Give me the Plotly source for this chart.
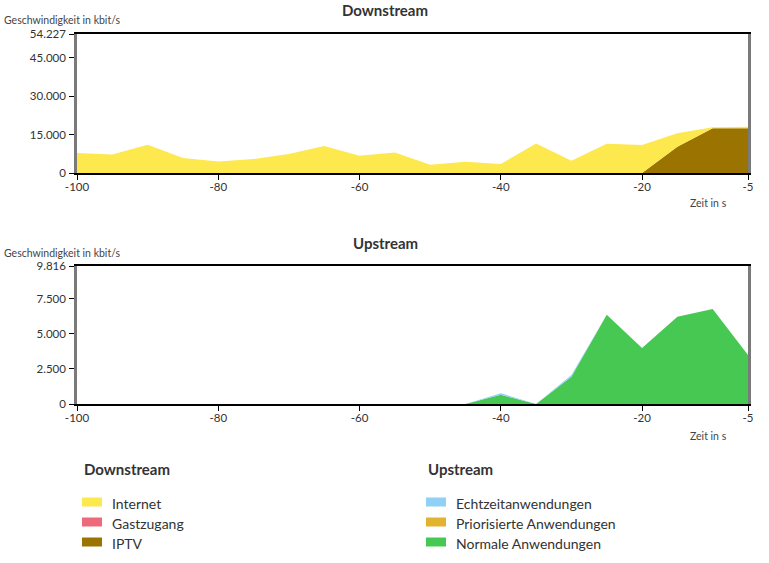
import plotly.graph_objects as go

W, H = 769, 563

# ---------------- data ----------------
time_s = [-100, -95, -90, -85, -80, -75, -70, -65, -60, -55,
          -50, -45, -40, -35, -30, -25, -20, -15, -10, -5]

# Downstream (kbit/s)
down_internet = [7800, 7260, 11040, 5850, 4530, 5460, 7410, 10530, 6750, 8040,
                 3240, 4410, 3510, 11550, 4800, 11430, 10920, 5210, 390, 620]
down_gast = [0] * 20
down_iptv = [0, 0, 0, 0, 0, 0, 0, 0, 0, 0,
             0, 0, 0, 0, 0, 0, 0, 10270, 17440, 17440]

# Upstream (kbit/s)
up_echtzeit = [0, 0, 0, 0, 30, 0, 0, 0, 0, 0,
               0, 0, 110, 0, 120, 0, 0, 0, 0, 0]
up_prior = [0] * 20
up_normal = [0, 0, 0, 0, 0, 0, 0, 0, 0, 0,
             0, 0, 650, 0, 1940, 6350, 3980, 6210, 6760, 3490]

down_yticks = [0, 15000, 30000, 45000, 54227]
up_yticks = [0, 2500, 5000, 7500, 9816]
x_ticks = [-100, -80, -60, -40, -20, -5]
x_ticklabels = ["-100", "-80", "-60", "-40", "-20", "-5"]

down_names = ["Internet", "Gastzugang", "IPTV"]
up_names = ["Echtzeitanwendungen", "Priorisierte Anwendungen", "Normale Anwendungen"]

# ---------------- styles ----------------
C_INTERNET = "#fde84e"
C_GAST = "#ec6a7a"
C_IPTV = "#9a7300"
C_ECHT = "#8fd0f5"
C_PRIO = "#e2b331"
C_NORM = "#47c853"
down_colors = [C_INTERNET, C_GAST, C_IPTV]
up_colors = [C_ECHT, C_PRIO, C_NORM]

FONT = "Lato"
TXT = "#333333"

def px_x(p):
    return p / W

def px_y(p):
    return 1 - p / H

fig = go.Figure()

# downstream stack (bottom first)
for name, vals, col in [("IPTV", down_iptv, C_IPTV),
                        ("Gastzugang", down_gast, C_GAST),
                        ("Internet", down_internet, C_INTERNET)]:
    fig.add_trace(go.Scatter(x=time_s, y=vals, name=name, mode="lines",
                             stackgroup="down", line=dict(width=0),
                             fillcolor=col, xaxis="x", yaxis="y",
                             showlegend=False))

# upstream stack (bottom first)
for name, vals, col in [("Normale Anwendungen", up_normal, C_NORM),
                        ("Priorisierte Anwendungen", up_prior, C_PRIO),
                        ("Echtzeitanwendungen", up_echtzeit, C_ECHT)]:
    fig.add_trace(go.Scatter(x=time_s, y=vals, name=name, mode="lines",
                             stackgroup="up", line=dict(width=0),
                             fillcolor=col, xaxis="x2", yaxis="y2",
                             showlegend=False))

xdom = [px_x(77), px_x(748)]

def xaxis_cfg(anchor):
    return dict(domain=xdom, range=[-100, -5], anchor=anchor, automargin=False,
                tickvals=x_ticks, ticktext=x_ticklabels,
                showgrid=False, zeroline=False,
                showline=True, linecolor="#000000", linewidth=1.5, mirror=True,
                ticks="outside", ticklen=5, tickcolor="#000000", tickwidth=1,
                ticklabelstandoff=-3,
                tickfont=dict(family=FONT, size=11.5, color=TXT))

def yaxis_cfg(anchor, dom, rng, ticks):
    return dict(domain=dom, range=rng, anchor=anchor, automargin=False,
                tickvals=ticks, tickformat=",d",
                showgrid=False, zeroline=False,
                showline=True, linecolor="#7a7a7a", linewidth=2.5, mirror=True,
                ticks="outside", ticklen=5, tickcolor="#000000", tickwidth=1,
                ticklabelstandoff=1,
                tickfont=dict(family=FONT, size=11.5, color=TXT))

annotations = []
def txt(x, y, s, size, bold=False, anchor="left", color=TXT):
    annotations.append(dict(xref="paper", yref="paper", x=px_x(x), y=px_y(y),
                            text=("<b>%s</b>" % s) if bold else s,
                            showarrow=False, xanchor=anchor, yanchor="middle",
                            font=dict(family=FONT, size=size, color=color)))

# chart titles / labels
txt(385, 10, "Downstream", 15, bold=True, anchor="center")
txt(2, 20, "Geschwindigkeit in kbit/s", 10.5, color="#444444")
txt(708, 203, "Zeit in s", 10.5, anchor="center", color="#444444")
txt(385, 243, "Upstream", 15, bold=True, anchor="center")
txt(2, 253, "Geschwindigkeit in kbit/s", 10.5, color="#444444")
txt(708, 436, "Zeit in s", 10.5, anchor="center", color="#444444")

# legends
shapes = []
txt(82, 469, "Downstream", 15, bold=True)
txt(426, 469, "Upstream", 15, bold=True)
for i, (n, c) in enumerate(zip(down_names, down_colors)):
    yc = 502 + 20 * i
    shapes.append(dict(type="rect", xref="paper", yref="paper",
                       x0=px_x(82), x1=px_x(102), y0=px_y(yc - 4.5), y1=px_y(yc + 4.5),
                       fillcolor=c, line=dict(width=0)))
    txt(110, yc + 1, n, 14)
for i, (n, c) in enumerate(zip(up_names, up_colors)):
    yc = 502 + 20 * i
    shapes.append(dict(type="rect", xref="paper", yref="paper",
                       x0=px_x(426), x1=px_x(446), y0=px_y(yc - 4.5), y1=px_y(yc + 4.5),
                       fillcolor=c, line=dict(width=0)))
    txt(454, yc + 1, n, 14)

fig.update_layout(
    width=W, height=H,
    margin=dict(l=0, r=0, t=0, b=0),
    paper_bgcolor="#ffffff", plot_bgcolor="#ffffff",
    separators=",.",
    showlegend=False,
    xaxis=xaxis_cfg("y"),
    yaxis=yaxis_cfg("x", [px_y(173), px_y(34)], [0, 54227], down_yticks),
    xaxis2=xaxis_cfg("y2"),
    yaxis2=yaxis_cfg("x2", [px_y(404), px_y(266)], [0, 9816], up_yticks),
    annotations=annotations,
    shapes=shapes,
)

fig.write_html("out.html",
               post_script="document.body.style.margin='0';"
                           "document.body.style.overflow='hidden';")
